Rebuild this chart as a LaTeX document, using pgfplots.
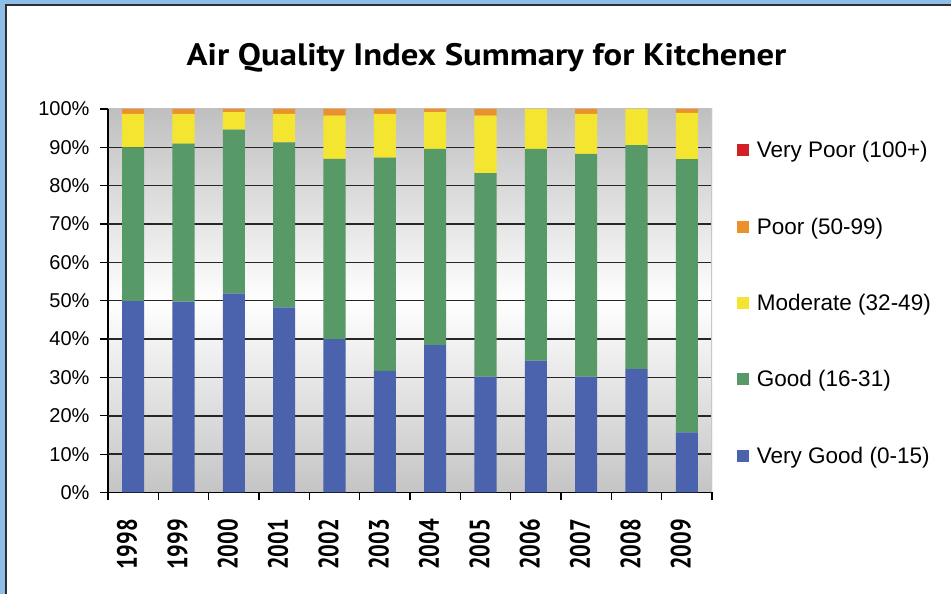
\documentclass[border=0pt]{standalone}
\usepackage{pgfplots}
\pgfplotsset{compat=1.18}
\usepackage{pgfplotstable}
\usepackage{fontspec}
\setmainfont{Liberation Sans}
\newfontfamily\titlefont{PT Sans}[FakeStretch=1.12]
\newfontfamily\yearfont{PT Sans}[FakeStretch=0.8]

\definecolor{vgood}{RGB}{75,99,173}
\definecolor{good}{RGB}{88,153,104}
\definecolor{moderate}{RGB}{244,230,48}
\definecolor{poor}{RGB}{236,144,44}
\definecolor{vpoor}{RGB}{210,32,38}
\definecolor{framebl}{RGB}{141,190,232}
\definecolor{framedk}{RGB}{45,45,50}

% share of days per AQI class, 1998-2009
\pgfplotstableread{
x  vgood good moderate poor vpoor
0  49.9  40.1 8.7  1.3 0
1  49.8  41.2 7.7  1.3 0
2  51.9  42.7 4.6  0.8 0
3  48.3  43.0 7.4  1.3 0
4  40.0  47.0 11.3 1.7 0
5  31.7  55.6 11.4 1.3 0
6  38.4  51.2 9.6  0.8 0
7  30.2  53.1 15.0 1.7 0
8  34.4  55.2 10.4 0.0 0
9  30.2  58.1 10.4 1.3 0
10 32.2  58.4 9.4  0.0 0
11 15.7  71.2 12.1 1.0 0
}\aqi

\begin{document}
\begin{tikzpicture}[x=1pt,y=1pt]
\fill[white] (0,0) rectangle (951,594);
\fill[framebl] (0,0) rectangle (5,594);
\fill[framebl] (0,590) rectangle (951,594);
\fill[framedk] (5,0) rectangle (7,590);
\fill[framedk] (5,588) rectangle (951,590);

\node[font=\titlefont\bfseries\fontsize{31}{36}\selectfont, anchor=base]
  at (486.5,528) {Air Quality Index Summary for Kitchener};

\begin{axis}[
  at={(108pt,101.5pt)}, anchor=south west,
  scale only axis, width=604pt, height=383.5pt,
  ybar stacked, bar width=0.44,
  xmin=-0.5, xmax=11.5, ymin=0, ymax=100,
  axis background/.style={shade, top color=black!25, bottom color=black!23, middle color=white},
  axis x line*=bottom, axis y line*=left,
  axis line style={-, black, line width=1.2pt},
  tick align=outside, major tick length=8pt,
  tick style={black, line width=1.2pt},
  ytick={0,10,...,100},
  yticklabel={\pgfmathprintnumber[assume math mode=true]{\tick}\%},
  yticklabel style={font=\fontsize{20}{24}\selectfont, xshift=-7pt},
  extra y ticks={10,20,...,90},
  extra y tick labels={},
  extra y tick style={grid=major, major tick length=0pt},
  grid style={black!85, line width=1.5pt},
  xtick={-0.5,0.5,...,11.5},
  xticklabels={},
  extra x ticks={0,...,11},
  extra x tick labels={1998,1999,2000,2001,2002,2003,2004,2005,2006,2007,2008,2009},
  extra x tick style={major tick length=0pt,
    xticklabel style={font=\yearfont\bfseries\fontsize{28}{30}\selectfont,
      yshift=-23pt, xshift=-6pt, rotate=90, anchor=east}},
  reverse legend,
  legend image code/.code={\fill[#1, draw=none] (0pt,-6pt) rectangle (12pt,6pt);},
  legend style={at={(1.041,0.494)}, anchor=west, draw=none, fill=none,
    inner sep=0pt, row sep=54.5pt, column sep=6pt,
    font=\fontsize{22.5}{26}\selectfont, cells={anchor=west}},
]
\addplot+[fill=vgood, draw=none] table[x=x, y=vgood] {\aqi};
\addlegendentry{Very Good (0-15)}
\addplot+[fill=good, draw=none] table[x=x, y=good] {\aqi};
\addlegendentry{Good (16-31)}
\addplot+[fill=moderate, draw=none] table[x=x, y=moderate] {\aqi};
\addlegendentry{Moderate (32-49)}
\addplot+[fill=poor, draw=none] table[x=x, y=poor] {\aqi};
\addlegendentry{Poor (50-99)}
\addplot+[fill=vpoor, draw=none] table[x=x, y=vpoor] {\aqi};
\addlegendentry{Very Poor (100+)}
\draw[black!22, line width=1.5pt] (rel axis cs:1,0) -- (rel axis cs:1,1);
\end{axis}
\pgfresetboundingbox
\useasboundingbox (0,0) rectangle (951,594);
\end{tikzpicture}
\end{document}
